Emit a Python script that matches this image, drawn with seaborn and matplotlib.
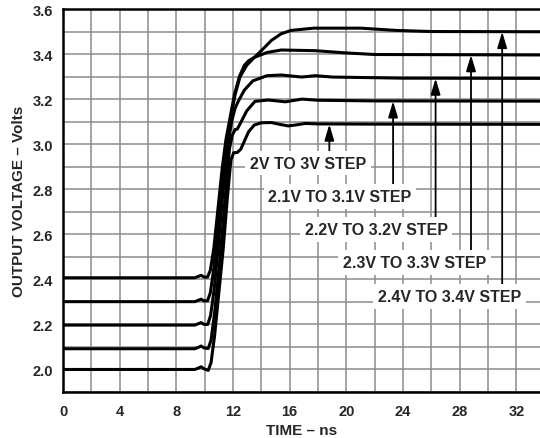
#!/usr/bin/env python

import matplotlib
matplotlib.use("Agg")
import matplotlib.pyplot as plt
import pandas as pd
import seaborn as sns

# step responses (time in ns, output in V)
t_2v = [0.1, 9.3, 9.55, 9.75, 9.95, 10.25, 10.45, 10.7, 11.0, 11.3, 11.6, 11.85,
        12.05, 12.3, 12.55, 12.85, 13.1, 13.5, 14.0, 14.7, 15.3, 15.9, 16.5, 17.1, 18.0, 22.0, 34.0]
v_2v = [2.0, 2.0, 2.006, 2.012, 2.003, 1.996, 2.03, 2.15, 2.34, 2.53, 2.76, 2.93,
        2.962, 2.963, 2.978, 3.02, 3.055, 3.085, 3.095, 3.096, 3.088, 3.081, 3.086, 3.092, 3.09, 3.089, 3.088]

t_21v = [0.1, 9.3, 9.55, 9.75, 9.95, 10.25, 10.45, 10.7, 11.0, 11.3, 11.55, 11.75,
         11.95, 12.15, 12.3, 12.5, 12.97, 13.55, 14.5, 15.7, 16.85, 18.0, 22.0, 34.0]
v_21v = [2.092, 2.092, 2.098, 2.104, 2.096, 2.093, 2.13, 2.25, 2.44, 2.65, 2.84, 2.98,
         3.04, 3.065, 3.067, 3.09, 3.148, 3.19, 3.196, 3.188, 3.2, 3.195, 3.192, 3.191]

t_22v = [0.1, 9.3, 9.55, 9.75, 9.95, 10.22, 10.42, 10.68, 10.98, 11.28, 11.5, 11.65,
         11.9, 12.15, 12.37, 12.8, 13.4, 14.4, 15.4, 16.85, 17.8, 19.0, 24.0, 34.0]
v_22v = [2.197, 2.197, 2.203, 2.208, 2.2, 2.2, 2.24, 2.36, 2.56, 2.78, 2.92, 3.0,
         3.1, 3.16, 3.19, 3.24, 3.281, 3.304, 3.307, 3.298, 3.304, 3.298, 3.293, 3.292]

t_23v = [0.1, 9.3, 9.55, 9.75, 9.95, 10.2, 10.4, 10.65, 10.95, 11.25, 11.45, 11.6,
         11.85, 12.15, 12.5, 12.97, 13.5, 14.4, 15.4, 17.8, 20.0, 22.0, 34.0]
v_23v = [2.301, 2.301, 2.307, 2.312, 2.304, 2.305, 2.34, 2.45, 2.64, 2.85, 2.97, 3.03,
         3.12, 3.22, 3.3, 3.35, 3.385, 3.407, 3.418, 3.415, 3.405, 3.398, 3.396]

t_24v = [0.1, 9.3, 9.55, 9.75, 9.95, 10.2, 10.4, 10.65, 10.95, 11.25, 11.5, 11.8,
         12.1, 12.45, 12.8, 13.1, 13.5, 14.0, 14.7, 15.4, 16.1, 17.7, 21.0, 23.5, 26.0, 34.0]
v_24v = [2.407, 2.407, 2.413, 2.418, 2.41, 2.41, 2.44, 2.54, 2.72, 2.9, 3.02, 3.12,
         3.22, 3.3, 3.35, 3.37, 3.385, 3.415, 3.46, 3.49, 3.505, 3.515, 3.515, 3.505, 3.5, 3.499]

step_labels = ["2V TO 3V STEP", "2.1V TO 3.1V STEP", "2.2V TO 3.2V STEP",
               "2.3V TO 3.3V STEP", "2.4V TO 3.4V STEP"]
arrow_x = [18.8, 23.3, 26.3, 28.8, 31.0]
arrow_tip = [3.088, 3.191, 3.292, 3.396, 3.499]
label_x = [17.3, 19.55, 22.1, 24.8, 27.3]
label_y = [2.916, 2.769, 2.622, 2.476, 2.324]


def build_frame():
    parts = []
    for name, t, v in zip(step_labels,
                          [t_2v, t_21v, t_22v, t_23v, t_24v],
                          [v_2v, v_21v, v_22v, v_23v, v_24v]):
        parts.append(pd.DataFrame({"time": t, "volts": v, "step": name}))
    return pd.concat(parts, ignore_index=True)


def main():
    sns.set_style("white")
    plt.rcParams["font.family"] = ["Liberation Sans", "DejaVu Sans"]
    plt.rcParams["font.weight"] = "bold"

    df = build_frame()

    fig = plt.figure(figsize=(5.4, 4.39), dpi=100)
    ax = fig.add_axes([63 / 540, 46 / 439, 477 / 540, 383 / 439])

    sns.lineplot(data=df, x="time", y="volts", hue="step", hue_order=step_labels,
                 palette=["black"] * 5, estimator=None, sort=False, legend=False,
                 lw=2.2, ax=ax, zorder=3)

    ax.set_xlim(0, 33.67)
    ax.set_ylim(1.9, 3.6)
    ax.set_xticks(range(0, 34, 4))
    ax.set_xticks(range(0, 34, 2), minor=True)
    ax.set_yticks([2.0, 2.2, 2.4, 2.6, 2.8, 3.0, 3.2, 3.4, 3.6])
    ax.set_yticks([1.9 + 0.1 * i for i in range(18)], minor=True)
    ax.grid(which="both", color="#8c8c8c", lw=1.1)
    ax.set_axisbelow(True)
    ax.tick_params(which="both", length=0, labelsize=10.5)
    ax.tick_params(axis="y", pad=7)
    ax.tick_params(axis="x", pad=9)
    ax.set_yticklabels([f"{v:.1f}" for v in ax.get_yticks()], fontweight="bold")
    ax.set_xticklabels([str(v) for v in ax.get_xticks()], fontweight="bold")

    for side in ["left", "bottom", "top"]:
        ax.spines[side].set_color("black")
        ax.spines[side].set_linewidth(1.8)
    ax.spines["right"].set_visible(False)

    ax.set_xlabel("TIME – ns", fontsize=11, fontweight="bold")
    ax.set_ylabel("OUTPUT VOLTAGE – Volts", fontsize=11, fontweight="bold")
    ax.xaxis.set_label_coords(0.5, -0.081)
    ax.yaxis.set_label_coords(-0.078, 0.5)

    for ax_x, tip, lx, ly, txt in zip(arrow_x, arrow_tip, label_x, label_y, step_labels):
        ax.annotate("", xy=(ax_x, tip), xytext=(ax_x, ly),
                    arrowprops=dict(arrowstyle="-|>,head_length=0.6,head_width=0.18",
                                    mutation_scale=16, lw=1.3, color="black",
                                    shrinkA=0, shrinkB=0),
                    zorder=4)
        ax.text(lx, ly, txt, ha="center", va="center", fontsize=11.5, fontweight="bold",
                zorder=5, bbox=dict(boxstyle="square,pad=0.3", fc="white", ec="none"))

    fig.savefig("out.png", dpi=100)
    plt.close(fig)


if __name__ == "__main__":
    main()
